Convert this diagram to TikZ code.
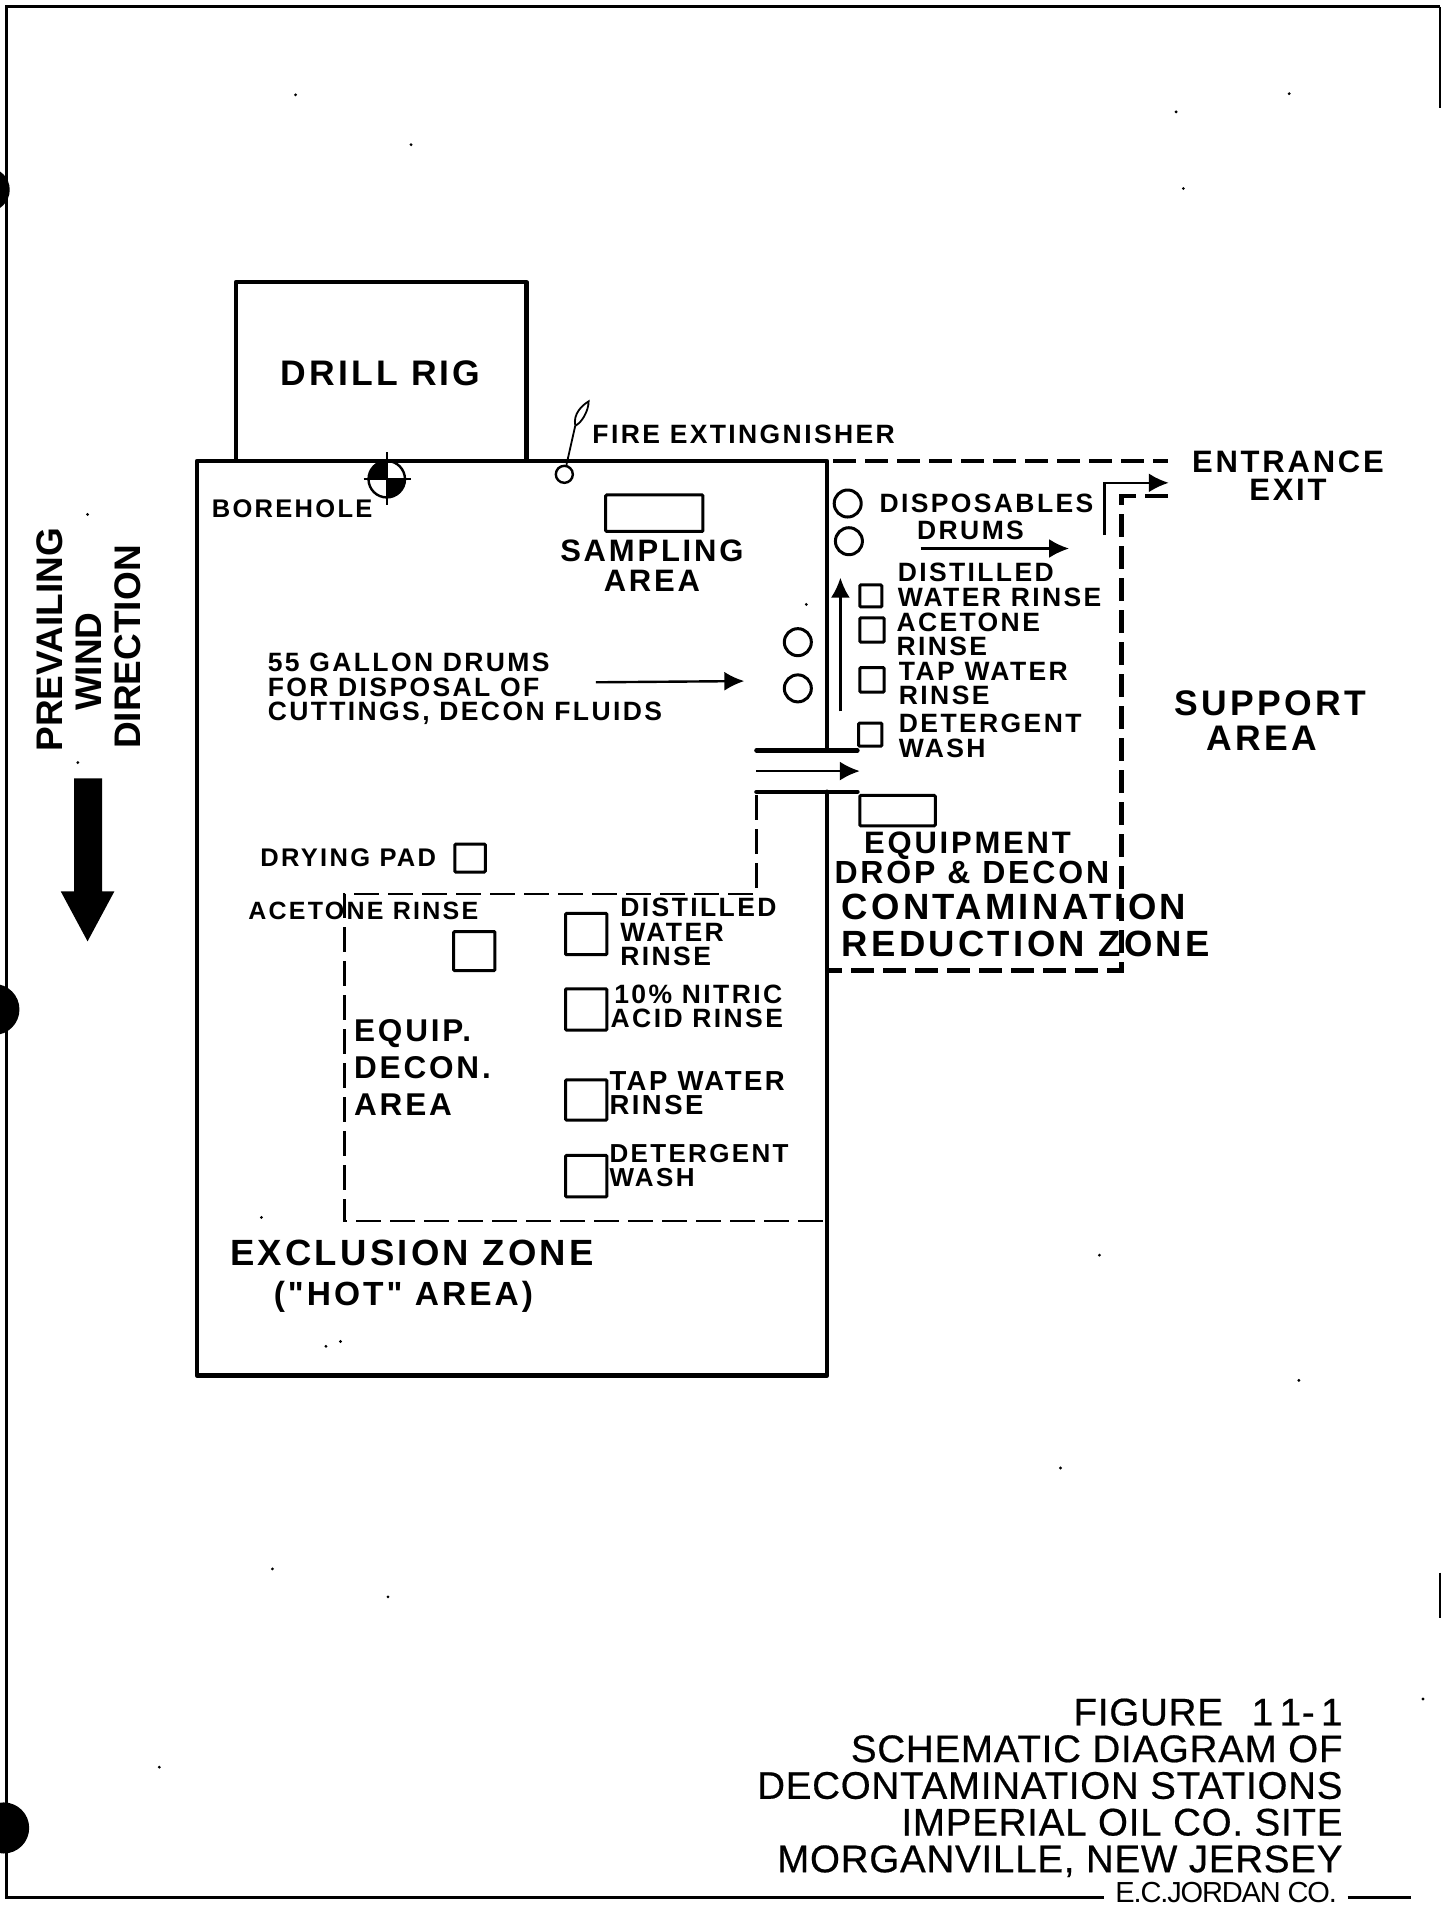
\documentclass[tikz,border=0pt]{standalone}
\usepackage{fontspec}
\usepackage{xcolor}
\setmainfont{Liberation Sans}
\newfontfamily\lettered[LetterSpace=9]{Liberation Sans}
\newfontfamily\capset[LetterSpace=2,FakeBold=0.5]{Liberation Sans}
\newfontfamily\tightset[LetterSpace=-4]{Liberation Sans}
\usetikzlibrary{arrows.meta, positioning, calc}
\definecolor{ink}{HTML}{000000}
\def\un{1.216pt}
\tikzset{
  wall/.style={draw=ink, line width=4.5pt, line cap=round, line join=round},
  zonedash/.style={draw=ink, line width=4.5pt, dash pattern=on 23pt off 9pt},
  decondash/.style={draw=ink, line width=2.8pt, dash pattern=on 25pt off 9pt},
  flow/.style={draw=ink, line width=2.4pt, -{Latex[length=20pt, width=19pt]}},
  station/.style={draw=ink, line width=3pt, rounded corners=1pt, inner sep=0pt},
  drum/.style={draw=ink, line width=3pt, circle, inner sep=0pt, minimum size=27pt},
  lblsmall/.style={inner sep=0pt, text=ink, font={\lettered\bfseries\fontsize{26.5}{24.5}\selectfont}},
  lbltiny/.style={inner sep=0pt, text=ink, font={\lettered\bfseries\fontsize{25.5}{24.5}\selectfont}},
  lblmid/.style={inner sep=0pt, text=ink, font={\lettered\bfseries\fontsize{31}{30}\selectfont}},
  lblbig/.style={inner sep=0pt, text=ink, font={\lettered\bfseries\fontsize{36.5}{36.5}\selectfont}},
  lblwind/.style={inner sep=0pt, text=ink, rotate=90, font={\bfseries\fontsize{37}{37}\selectfont}},
  lbltitle/.style={inner sep=0pt, text=ink, font={\capset\fontsize{38.5}{36.7}\selectfont}},
}
\begin{document}
\begin{tikzpicture}[x=1.216pt, y=-1.216pt]
\useasboundingbox (0,0) rectangle (1185,1568);
\fill[white] (0,0) rectangle (1185,1568);

\draw[ink, line width=3pt] (1184,5.5) -- (5.5,5.5) -- (5.5,1560) -- (908,1560);
\draw[ink, line width=3pt] (1108,1560) -- (1160,1560);
\draw[ink, line width=2pt] (1184,5.5) -- (1184,89);
\draw[ink, line width=2pt] (1184,1293) -- (1184,1330);
\fill[ink] (-10,156) circle (18);
\fill[ink] (-5,830) circle (21);
\fill[ink] (3,1503) circle (21);

\foreach \sx/\sy in {338/119, 243/78, 1060/77, 973/155, 967/92, 663/497, 215/1001, 131/1453, 872/1207, 904/1032, 224/1290, 319/1313, 268/1107, 280/1103, 1170/1397, 1068/1135, 72/423, 64/627} {
  \fill[ink] (\sx,\sy) circle (1.3);
}

\draw[wall] (194,378) -- (194,232) -- (433,232) -- (433,378);
\node[lblbig, font={\lettered\bfseries\fontsize{35.5}{35.5}\selectfont}] (rig) at (313,307) {DRILL RIG};

\draw[wall] (680,617) -- (680,379) -- (162,379) -- (162,1131) -- (680,1131) -- (680,651);
\draw[wall] (622,617) -- (705,617);
\draw[wall] (622,651) -- (705,651);
\coordinate (gatefrom) at (622,634);
\coordinate (gateto) at (707,634);
\draw[flow] (gatefrom) -- (gateto);

\draw[zonedash] (685,379) -- (960,379);
\draw[zonedash] (960,408) -- (922,408) -- (922,798) -- (682,798);
\draw[decondash] (622,654) -- (622,735) -- (283,735) -- (283,1004) -- (680,1004);

\coordinate (exitfoot) at (908,440);
\coordinate (exitknee) at (908,397);
\coordinate (exithead) at (961,397);
\draw[flow] (exitfoot) -- (exitknee) -- (exithead);
\node[lblmid, font={\lettered\bfseries\fontsize{31}{28}\selectfont}, align=center] (entrance) at (1059,391.5) {ENTRANCE\\EXIT};
\node[lblbig, font={\lettered\bfseries\fontsize{35.5}{35.5}\selectfont}] (support) at (1044.5,578) {SUPPORT};
\node[lblbig, font={\lettered\bfseries\fontsize{35.5}{35.5}\selectfont}] (supportb) at (1037.5,607) {AREA};

\fill[ink] (318,394) -- (318,379) arc (270:180:15) -- cycle;
\fill[ink] (318,394) -- (318,409) arc (90:0:15) -- cycle;
\draw[ink, line width=2.4pt] (318,394) circle (15);
\draw[ink, line width=2.4pt] (299,394) -- (338,394);
\draw[ink, line width=2.4pt] (318,372) -- (318,415);
\node[lbltiny, anchor=west] (borehole) at (174,418) {BOREHOLE};

\node[drum, minimum size=17pt, line width=2.4pt] (extinguisher) at (464,390) {};
\coordinate (leafstem) at (473,350);
\draw[ink, line width=1.8pt] (extinguisher) -- (leafstem);
\draw[ink, line width=1.8pt] (leafstem) .. controls (471,340) and (479,333) .. (484,330) .. controls (484,338) and (478,348) .. (leafstem);
\node[lblsmall, anchor=west] (firelbl) at (487,357) {FIRE EXTINGNISHER};

\node[station, minimum width=80*\un, minimum height=30*\un] (sampling) at (538,422) {};
\node[lblmid, align=center, font={\lettered\bfseries\fontsize{31}{29.5}\selectfont}] (samplinglbl) at (536,465) {SAMPLING\\AREA};

\node[drum] (dispA) at (697,414) {};
\node[drum] (dispB) at (698,445) {};
\node[lblsmall, anchor=west] (displbl) at (723,414) {DISPOSABLES};
\node[lblsmall, anchor=west] (disptwo) at (754,436) {DRUMS};
\coordinate (dispfrom) at (757,451);
\coordinate (dispto) at (879,451);
\draw[flow] (dispfrom) -- (dispto);

\node[station, minimum size=18*\un] (cleanA) at (716,490) {};
\node[station, minimum size=20*\un] (cleanB) at (717,518) {};
\node[station, minimum size=20*\un] (cleanC) at (717,559) {};
\node[station, minimum size=19*\un] (cleanD) at (715.5,604) {};
\node[lblsmall, anchor=west, align=left] (cleanAlbl) at (738,481) {DISTILLED\\WATER RINSE};
\node[lblsmall, anchor=west, align=left] (cleanBlbl) at (737,521.5) {ACETONE\\RINSE};
\node[lblsmall, anchor=west, align=left] (cleanClbl) at (739,562) {TAP WATER\\RINSE};
\node[lblsmall, anchor=west, align=left] (cleanDlbl) at (739,605) {DETERGENT\\WASH};
\coordinate (upfoot) at (691,585);
\coordinate (uptip) at (691,475);
\draw[flow] (upfoot) -- (uptip);

\node[lblsmall, anchor=west, align=left] (gallonlbl) at (220,566.5) {55 GALLON DRUMS\\FOR DISPOSAL OF\\CUTTINGS, DECON FLUIDS};
\coordinate (gallonfrom) at (490,561);
\coordinate (gallonto) at (612,560);
\draw[flow] (gallonfrom) -- (gallonto);
\node[drum] (gallonA) at (656,528) {};
\node[drum] (gallonB) at (656,566) {};

\node[station, minimum width=62*\un, minimum height=25*\un] (equipdrop) at (738,666.5) {};
\node[lblmid] (equiplbl) at (795.5,695) {EQUIPMENT};
\node[lblmid, anchor=west, font={\lettered\bfseries\fontsize{32}{32}\selectfont}] (droplbl) at (686,717) {DROP \& DECON};
\node[lblbig, anchor=west] (contlbl) at (692,746) {CONTAMINATION};
\node[lblbig, anchor=west] (reductlbl) at (692,776) {REDUCTION ZONE};

\node[lbltiny, anchor=west] (dryinglbl) at (214,705) {DRYING PAD};
\node[station, minimum width=25*\un, minimum height=23*\un] (drying) at (386.5,705.5) {};
\node[lbltiny, anchor=west, font={\lettered\bfseries\fontsize{25}{25}\selectfont}] (acetonelbl) at (204,749) {ACETONE RINSE};
\node[station, minimum width=34*\un, minimum height=32*\un] (acetone) at (390,782) {};

\node[station, minimum width=34*\un, minimum height=34*\un] (hotA) at (482,768) {};
\node[station, minimum width=34*\un, minimum height=34*\un] (hotB) at (482,830) {};
\node[station, minimum width=34*\un, minimum height=33*\un] (hotC) at (482,904.5) {};
\node[station, minimum width=34*\un, minimum height=34*\un] (hotD) at (482,967) {};
\node[lblsmall, anchor=west, align=left] (hotAlbl) at (510,766.5) {DISTILLED\\WATER\\RINSE};
\node[lblsmall, anchor=west] (hotBlbl) at (505,818) {10\% NITRIC};
\node[lblsmall, anchor=west] (hotBtwo) at (502,837) {ACID RINSE};
\node[lblsmall, anchor=west, align=left, font={\lettered\bfseries\fontsize{27.5}{24.5}\selectfont}] (hotClbl) at (501,899) {TAP WATER\\RINSE};
\node[lbltiny, anchor=west, align=left, font={\lettered\bfseries\fontsize{26}{24.5}\selectfont}] (hotDlbl) at (501,958.5) {DETERGENT\\WASH};

\node[lblmid, anchor=west, align=left, font={\lettered\bfseries\fontsize{31.5}{37}\selectfont}] (equipdecon) at (291,877.5) {EQUIP.\\DECON.\\AREA};

\node[lblbig, anchor=west] (exclusion) at (189,1030) {EXCLUSION ZONE};
\node[lblmid, anchor=west, font={\lettered\bfseries\fontsize{33.5}{33.5}\selectfont}] (hotlbl) at (225,1066) {("HOT" AREA)};

\node[lblwind] (windA) at (41,526) {PREVAILING};
\node[lblwind] (windB) at (73,544) {WIND};
\node[lblwind] (windC) at (105,532) {DIRECTION};
\fill[ink] (61,640) -- (84,640) -- (84,733) -- (94,733) -- (72,774) -- (50,733) -- (61,733) -- cycle;

\node[lbltitle, anchor=east, align=right] (caption) at (1104,1470) {FIGURE\hspace{0.75em}1\,1-\,1\\SCHEMATIC DIAGRAM OF\\DECONTAMINATION STATIONS\\IMPERIAL OIL CO. SITE\\MORGANVILLE, NEW JERSEY};
\node[inner sep=0pt, text=ink, anchor=west, font={\tightset\fontsize{29}{29}\selectfont}] (maker) at (917,1556) {E.C.JORDAN CO.};
\end{tikzpicture}
\end{document}
